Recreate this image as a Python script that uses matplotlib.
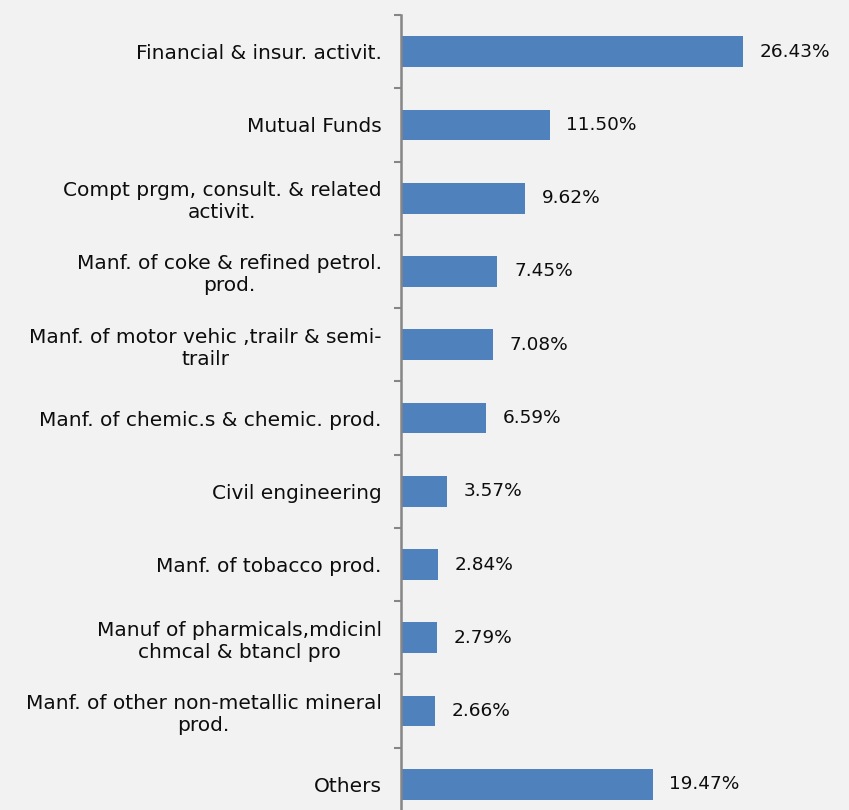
import matplotlib
matplotlib.use("Agg")
import matplotlib.pyplot as plt
import numpy as np

categories = [
    "Financial & insur. activit.",
    "Mutual Funds",
    "Compt prgm, consult. & related\nactivit.",
    "Manf. of coke & refined petrol.\nprod.",
    "Manf. of motor vehic ,trailr & semi-\ntrailr",
    "Manf. of chemic.s & chemic. prod.",
    "Civil engineering",
    "Manf. of tobacco prod.",
    "Manuf of pharmicals,mdicinl\nchmcal & btancl pro",
    "Manf. of other non-metallic mineral\nprod.",
    "Others",
]
shares = [26.43, 11.50, 9.62, 7.45, 7.08, 6.59, 3.57, 2.84, 2.79, 2.66, 19.47]
value_labels = ["26.43%", "11.50%", "9.62%", "7.45%", "7.08%", "6.59%",
                "3.57%", "2.84%", "2.79%", "2.66%", "19.47%"]

plt.rcParams["font.family"] = ["DejaVu Sans"]
W, H = 849, 810
fig = plt.figure(figsize=(W / 100, H / 100), dpi=100)
fig.patch.set_facecolor("#f2f2f2")

ax = fig.add_axes([401 / W, -11 / H, 388 / W, 806 / H])
ax.set_facecolor("#f2f2f2")

y = np.arange(len(categories))
ax.barh(y, shares, height=0.42, color="#4f81bd", edgecolor="none")

for yi, v, s in zip(y, shares, value_labels):
    ax.annotate(s, (v, yi), xytext=(12, 0), textcoords="offset points",
                ha="left", va="center", fontsize=13.3, color="#0d0d0d")

ax.set_xlim(0, 30)
ax.set_ylim(len(categories) - 0.5, -0.5)

ax.set_yticks(y)
ax.set_yticklabels(categories, fontsize=14.5, color="#0d0d0d")
for lbl in ax.get_yticklabels():
    lbl.set_multialignment("center")
ax.tick_params(axis="y", which="major", length=0, pad=14)
ax.set_yticks(np.arange(-0.5, len(categories), 1.0), minor=True)
ax.tick_params(axis="y", which="minor", length=5, width=1.5, color="#868686")

ax.set_xticks([])
for side in ["top", "right", "bottom"]:
    ax.spines[side].set_visible(False)
ax.spines["left"].set_color("#868686")
ax.spines["left"].set_linewidth(1.8)

fig.savefig("out.png", dpi=100, facecolor=fig.get_facecolor())
